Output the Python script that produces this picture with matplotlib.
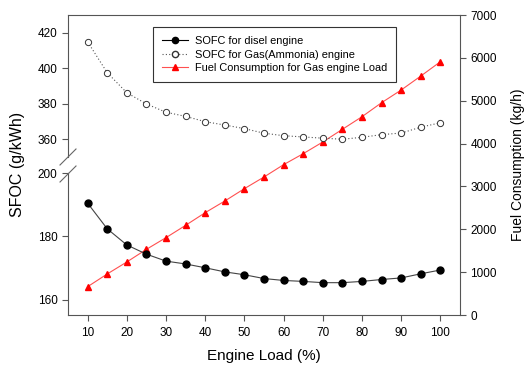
import numpy as np
import matplotlib
matplotlib.use('Agg')
import matplotlib.pyplot as plt
from matplotlib.lines import Line2D

plt.rcParams['font.family'] = ['Liberation Sans', 'DejaVu Sans']

load = [10, 15, 20, 25, 30, 35, 40, 45, 50, 55, 60, 65, 70, 75, 80, 85, 90, 95, 100]
sfoc_diesel = [190.5, 182.4, 177.3, 174.4, 172.2, 171.3, 170.1, 168.8, 167.9, 166.7,
               166.1, 165.8, 165.4, 165.4, 165.8, 166.4, 166.9, 168.2, 169.4]
sfoc_gas = [414.9, 397.5, 386.2, 379.9, 375.2, 372.9, 369.9, 368.0, 366.0, 363.4,
            362.0, 361.3, 360.6, 360.0, 361.1, 362.6, 363.5, 366.8, 369.3]
fuel_gas = [660, 957, 1237, 1532, 1805, 2092, 2388, 2660, 2948, 3220,
            3508, 3764, 4037, 4333, 4627, 4954, 5250, 5576, 5910]

W, H = 530, 371
fig = plt.figure(figsize=(5.3, 3.71), dpi=100)

def fx(px):
    return px / W

def fy(px):
    return 1 - px / H

L, R, T, B = 68, 460, 15, 315
spine_c = '#555555'

# full box, right axis (fuel consumption)
ax = fig.add_axes([fx(L), fy(B), fx(R - L), (B - T) / H])
ax.plot(load, fuel_gas, color='#ff5050', lw=0.8, marker='^', ms=5,
        mfc='red', mec='red', zorder=3)
ax.set_xlim(5, 105)
ax.set_ylim(0, 7000)
ax.set_xticks(range(10, 101, 10))
ax.yaxis.tick_right()
ax.yaxis.set_label_position('right')
ax.set_yticks(range(0, 7001, 1000))
ax.spines['left'].set_visible(False)
for s in ['top', 'bottom', 'right']:
    ax.spines[s].set_color(spine_c)
ax.tick_params(direction='out', length=4, width=0.8, color=spine_c, labelsize=8.5)
ax.tick_params(axis='x', pad=5)

# top and bottom segments of the broken SFOC axis
ax_top = fig.add_axes([fx(L), fy(157), fx(R - L), (157 - T) / H], sharex=ax)
ax_bot = fig.add_axes([fx(L), fy(B), fx(R - L), (B - 173) / H], sharex=ax)
for a in (ax_top, ax_bot):
    a.patch.set_visible(False)
    for s in ['top', 'bottom', 'right']:
        a.spines[s].set_visible(False)
    a.spines['left'].set_color(spine_c)
    a.tick_params(axis='x', bottom=False, labelbottom=False)
    a.tick_params(axis='y', direction='out', length=4, width=0.8, color=spine_c, labelsize=8.5)

ax_top.plot(load, sfoc_gas, color='#555555', ls=(0, (1, 2)), lw=0.8, marker='o', ms=4.5,
            mfc='white', mec='#333333', mew=0.7, zorder=3)
ax_top.set_ylim(350, 430)
ax_top.set_yticks([360, 380, 400, 420])

ax_bot.plot(load, sfoc_diesel, color='#444444', lw=0.8, marker='o', ms=5,
            mfc='black', mec='black', zorder=4)
ax_bot.set_ylim(155.2, 200)
ax_bot.set_yticks([160, 180, 200])

# break marks
for yb in (157, 174):
    fig.add_artist(Line2D([fx(L - 8), fx(L + 8)], [fy(yb + 8), fy(yb - 8)],
                          color='#666666', lw=0.8))

ax.set_xlabel('Engine Load (%)', fontsize=11, labelpad=7)
ax.set_ylabel('Fuel Consumption (kg/h)', fontsize=10, labelpad=10)
fig.text(fx(18), fy(164), 'SFOC (g/kWh)', rotation=90, fontsize=11.5,
         ha='center', va='center')

handles = [
    Line2D([], [], color='black', lw=0.8, marker='o', ms=4.5, mfc='black', mec='black'),
    Line2D([], [], color='#555555', ls=(0, (1, 2)), lw=0.8, marker='o', ms=4.5,
           mfc='white', mec='#333333'),
    Line2D([], [], color='#ff5050', lw=0.8, marker='^', ms=4.5, mfc='red', mec='red'),
]
labels = ['SOFC for disel engine', 'SOFC for Gas(Ammonia) engine',
          'Fuel Consumption for Gas engine Load']
leg = ax_bot.legend(handles, labels, loc='upper left',
                    bbox_to_anchor=((153 - L) / (R - L), (B - 27) / (B - T)),
                    bbox_transform=ax.transAxes, borderaxespad=0,
                    fontsize=7.9, frameon=True, fancybox=False, framealpha=1,
                    edgecolor='#333333', handlelength=2.3, borderpad=0.85,
                    labelspacing=0.3, handletextpad=0.65)
leg.get_frame().set_linewidth(0.8)
leg.set_zorder(10)

fig.savefig('out.png', dpi=100)
